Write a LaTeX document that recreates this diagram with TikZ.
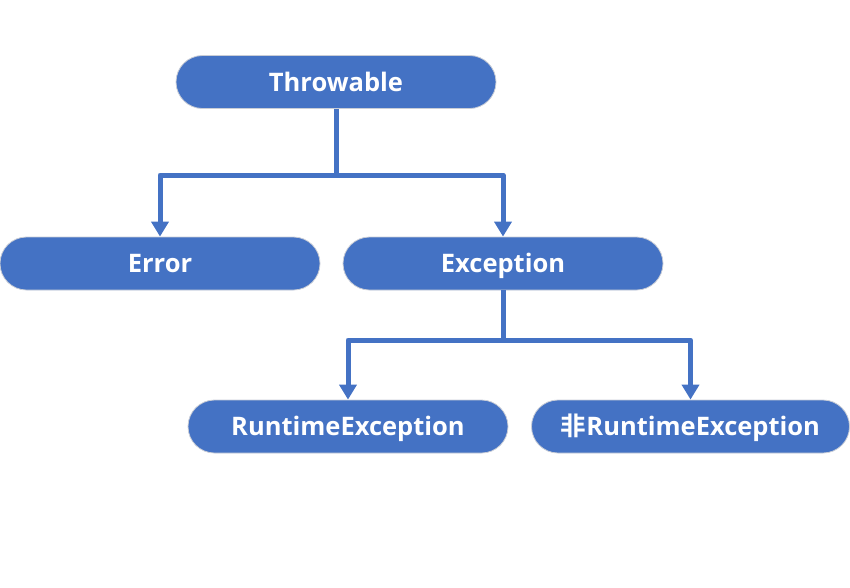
\documentclass[tikz,border=0pt]{standalone}
\usepackage{fontspec}
\setmainfont{Open Sans}
\newfontfamily\cjk{Noto Sans CJK SC}[BoldFont={Noto Sans CJK SC Bold}]
\usetikzlibrary{arrows.meta,shapes.misc}
\definecolor{boxblue}{HTML}{4472C4}
\definecolor{boxedge}{HTML}{C9CDD6}
\begin{document}
\begin{tikzpicture}[x=1pt,y=-1pt,
  pill/.style={rounded rectangle, fill=boxblue, draw=boxedge, line width=0.8pt,
    minimum width=320pt, minimum height=53pt, inner sep=0pt,
    text height=18.3pt, text depth=0pt,
    text=white, font=\bfseries\fontsize{25.5}{30}\selectfont},
  conn/.style={draw=boxblue, line width=5pt, line join=round},
  tip/.style={-{Triangle[width=17pt,length=15pt]}}]
\useasboundingbox (0,0) rectangle (850,587);
\node[pill] (T) at (336,82) {Throwable};
\node[pill] (E) at (160,263.5) {Error};
\node[pill] (X) at (503,263.5) {Exception};
\node[pill] (R) at (348,426.5) {RuntimeException};
\node[pill, minimum width=318pt] (N) at (690.5,426.5) {{\cjk\bfseries 非}RuntimeException};
\coordinate (j1) at (336,175);
\coordinate (j2) at (503,340);
\draw[conn] (T.south) -- (j1);
\draw[conn,tip] (j1) -| (E.north);
\draw[conn,tip] (j1) -| (X.north);
\draw[conn] (X.south) -- (j2);
\draw[conn,tip] (j2) -| (R.north);
\draw[conn,tip] (j2) -| (N.north);
\end{tikzpicture}
\end{document}
